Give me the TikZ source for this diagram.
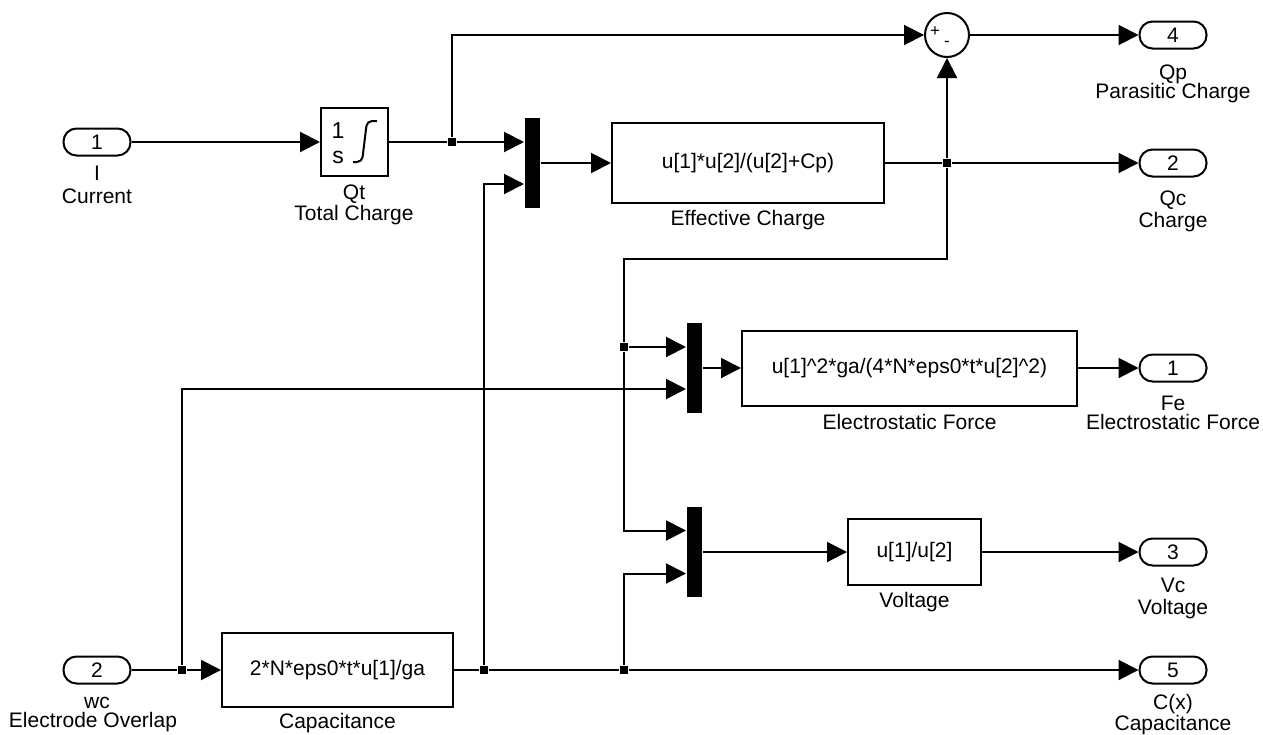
\documentclass[tikz,border=0pt]{standalone}
\usepackage{fontspec}
\setmainfont{Liberation Sans}
\usetikzlibrary{arrows.meta,calc}
\begin{document}
\begin{tikzpicture}[x=0.5pt,y=-0.5pt,
  line width=1pt,
  every node/.style={font=\fontsize{10.5}{12}\selectfont},
  port/.style={draw, line width=1pt, rounded corners=6.5pt, minimum width=33.5pt, minimum height=13.5pt, inner sep=0pt},
  blk/.style={draw, line width=1pt, inner sep=0pt},
  mux/.style={fill=black, draw=none, minimum width=7.5pt, minimum height=45pt, inner sep=0pt},
  junc/.style={fill=black, minimum size=4pt, inner sep=0pt},
  lbl/.style={anchor=base, inner sep=0pt},
  sig/.style={-{Triangle[length=10pt,width=10pt]}},
]
\useasboundingbox (0,0) rectangle (1263,734);

% ---- blocks ----
\node[port] (in1) at (97,142) {1};
\node[port] (in2) at (97,670) {2};
\node[blk, minimum width=33.5pt, minimum height=34pt] (integ) at (354.5,142) {};
\node[draw, circle, line width=1pt, minimum size=22pt, inner sep=0pt] (sum) at (947,35) {};
\node[mux] (mux1) at (532.5,163) {};
\node[blk, minimum width=136pt, minimum height=40pt] (eff) at (748,163) {u[1]*u[2]/(u[2]+Cp)};
\node[mux] (mux2) at (694.5,368) {};
\node[blk, minimum width=167.5pt, minimum height=37.5pt] (estat) at (909.5,368) {u[1]\textasciicircum 2*ga/(4*N*eps0*t*u[2]\textasciicircum 2)};
\node[mux] (mux3) at (694.5,552) {};
\node[blk, minimum width=66.5pt, minimum height=33pt] (volt) at (914.5,552) {u[1]/u[2]};
\node[blk, minimum width=115.5pt, minimum height=37pt] (cap) at (337.5,670) {2*N*eps0*t*u[1]/ga};

\node[port] (out4) at (1173,35) {4};
\node[port] (out2) at (1173,163) {2};
\node[port] (out1) at (1173,368) {1};
\node[port] (out3) at (1173,552) {3};
\node[port] (out5) at (1173,670) {5};

% integrator icon
\node[inner sep=0pt, font=\fontsize{11.5}{13}\selectfont] (one) at (338,131) {1};
\node[inner sep=0pt, font=\fontsize{11.5}{13}\selectfont] (ess) at (338,157) {s};
\draw[rounded corners=2.5pt, line width=1pt] (353,162) -- (362,162) -- (367,121) -- (377,121);

% sum signs
\node[inner sep=0pt, font=\fontsize{8.5}{10}\selectfont] (plus) at (935,32) {+};
\node[inner sep=0pt, font=\fontsize{8.5}{10}\selectfont] (minus) at (947,44) {-};

% ---- junctions ----
\node[junc] (j1) at (452,142) {};
\node[junc] (jq) at (947,163) {};
\coordinate (bend) at (947,259);
\node[junc] (j2) at (624,347) {};
\node[junc] (jw) at (182,670) {};
\node[junc] (jc1) at (484,670) {};
\node[junc] (jc2) at (624,670) {};

% ---- connectors ----
\draw[sig] (in1) -- (integ);
\draw (integ) -- (j1);
\draw[sig] (j1) -- (mux1.west |- j1);
\draw[sig] (j1) |- (sum);
\draw[sig] (sum) -- (out4);
\draw[sig] (mux1) -- (eff);
\draw (eff) -- (jq);
\draw[sig] (jq) -- (out2);
\draw[sig] (jq) -- (sum);
\draw (jq) -- (bend) -| (j2);
\draw[sig] (j2) -- (mux2.west |- j2);
\draw[sig] (j2) |- ($(mux3.west)+(0,-21.5)$);
\draw[sig] (mux2) -- (estat);
\draw[sig] (estat) -- (out1);
\draw[sig] (mux3) -- (volt);
\draw[sig] (volt) -- (out3);
\draw (in2) -- (jw);
\draw[sig] (jw) -- (cap);
\draw[sig] (jw) |- ($(mux2.west)+(0,21)$);
\draw (cap) -- (jc1);
\draw (jc1) -- (jc2);
\draw[sig] (jc2) -- (out5);
\draw[sig] (jc1) |- ($(mux1.west)+(0,21)$);
\draw[sig] (jc2) |- ($(mux3.west)+(0,21.5)$);

% ---- labels ----
\node[lbl] (lI) at (97,180) {I};
\node[lbl] (lcur) at (97,203) {Current};
\node[lbl] (lqt) at (354,199.5) {Qt};
\node[lbl] (ltc) at (354,220.5) {Total Charge};
\node[lbl] (leff) at (748,225.5) {Effective Charge};
\node[lbl] (lqp) at (1173,79.5) {Qp};
\node[lbl] (lpc) at (1173,98.5) {Parasitic Charge};
\node[lbl] (lqc) at (1173,205.5) {Qc};
\node[lbl] (lch) at (1173,227.5) {Charge};
\node[lbl] (lef) at (909.5,429.5) {Electrostatic Force};
\node[lbl] (lfe) at (1173,410.5) {Fe};
\node[lbl] (lef2) at (1173,429.5) {Electrostatic Force};
\node[lbl] (lv) at (914.5,607.5) {Voltage};
\node[lbl] (lvc) at (1173,592.5) {Vc};
\node[lbl] (lv2) at (1173,614.5) {Voltage};
\node[lbl] (lwc) at (97,708) {wc};
\node[lbl] (leo) at (93,727) {Electrode Overlap};
\node[lbl] (lcap) at (337.5,728) {Capacitance};
\node[lbl] (lcx) at (1173,709) {C(x)};
\node[lbl] (lcap2) at (1173,730) {Capacitance};
\end{tikzpicture}
\end{document}
